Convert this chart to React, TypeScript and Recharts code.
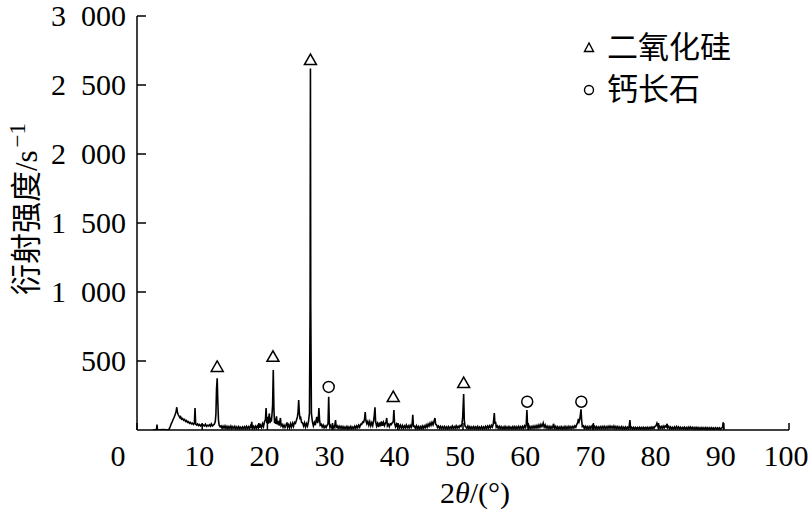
import React from 'react';
import { ComposedChart, Line, Scatter, XAxis, YAxis, Legend } from 'recharts';

const SERIF = '"Liberation Serif", "DejaVu Serif", "Noto Sans CJK SC", serif';

// 2θ (degrees) vs counts
const scanA: [number, number][] = [
  [2.5, 2], [2.8, 3], [3.0, 4], [3.07, 40], [3.14, 4], [3.5, 2], [4.0, 3], [4.5, 2], [4.9, 4],
  [5.1, 25], [5.25, 45], [5.4, 60], [5.55, 78], [5.7, 92], [5.85, 112], [6.0, 135], [6.1, 165],
  [6.2, 128], [6.3, 112], [6.45, 100], [6.6, 88], [6.7, 96], [6.85, 78], [7.0, 84], [7.15, 70],
  [7.3, 76], [7.45, 62], [7.6, 68], [7.75, 55], [7.9, 60], [8.05, 48], [8.2, 54], [8.35, 44],
  [8.5, 50], [8.65, 40], [8.8, 48], [8.9, 160], [9.0, 42], [9.15, 36], [9.3, 44], [9.45, 32],
  [9.6, 40], [9.75, 30], [9.9, 38], [10.05, 28], [10.2, 36], [10.35, 30], [10.5, 42], [10.65, 27],
  [10.8, 34], [10.95, 29], [11.1, 38], [11.25, 28], [11.4, 44], [11.55, 30], [11.7, 36], [11.85, 42],
  [12.0, 60], [12.1, 110], [12.2, 300], [12.3, 375], [12.4, 200], [12.5, 70], [12.6, 35], [12.75, 24],
];

const scanB: [number, number][] = [
  [12.9, 30], [13.05, 12], [13.2, 28], [13.35, 14], [13.5, 30], [13.65, 12], [13.8, 26], [13.95, 10],
  [14.1, 25], [14.25, 12], [14.4, 28], [14.55, 10], [14.7, 24], [14.85, 12], [15.0, 26], [15.15, 10],
  [15.3, 22], [15.45, 9], [15.6, 25], [15.75, 10], [15.9, 20], [16.05, 9], [16.2, 22], [16.35, 10],
  [16.5, 24], [16.65, 10], [16.8, 26], [16.95, 11], [17.1, 24], [17.25, 10], [17.4, 28], [17.5, 14],
  [17.6, 60], [17.7, 12], [17.85, 26], [18.0, 11], [18.15, 28], [18.3, 13], [18.45, 30], [18.6, 15],
  [18.7, 50], [18.8, 16], [18.95, 35], [19.1, 18], [19.25, 45], [19.4, 25], [19.55, 60], [19.7, 75],
  [19.8, 160], [19.9, 50], [20.0, 95], [20.1, 45], [20.2, 85], [20.3, 120], [20.4, 50], [20.5, 90],
  [20.6, 60], [20.7, 110], [20.8, 180], [20.9, 435], [21.0, 150], [21.1, 50], [21.2, 85], [21.3, 45],
  [21.4, 100], [21.5, 40], [21.65, 65], [21.8, 32], [21.9, 60], [22.0, 87], [22.1, 30], [22.25, 40],
  [22.4, 20], [22.55, 36], [22.7, 18], [22.85, 34], [23.0, 55], [23.1, 20], [23.25, 38], [23.4, 16],
  [23.55, 45], [23.7, 22], [23.85, 48], [24.0, 26], [24.15, 55], [24.3, 48], [24.45, 70], [24.6, 95],
  [24.7, 130], [24.8, 217], [24.9, 120], [25.0, 85], [25.1, 90], [25.25, 55], [25.4, 50], [25.55, 28],
  [25.7, 52], [25.85, 22], [26.0, 46], [26.15, 28], [26.3, 60], [26.45, 120], [26.55, 900], [26.6, 2620],
  [26.65, 900], [26.75, 120], [26.9, 60], [27.05, 30], [27.2, 55], [27.35, 35], [27.5, 80], [27.6, 95],
  [27.7, 50], [27.8, 70], [27.9, 160], [28.0, 75], [28.1, 35], [28.25, 42], [28.4, 22], [28.55, 36],
  [28.7, 16], [28.85, 30], [29.0, 18], [29.15, 34], [29.3, 45], [29.4, 240], [29.5, 50], [29.6, 18],
  [29.75, 34], [29.9, 14], [30.05, 30], [30.2, 14], [30.35, 36], [30.45, 72], [30.55, 20], [30.7, 30],
  [30.85, 12],
];

const scanC: [number, number][] = [
  [31.0, 28], [31.15, 12], [31.3, 26], [31.45, 10], [31.6, 24], [31.75, 9], [31.9, 22], [32.05, 10],
  [32.2, 25], [32.35, 8], [32.5, 22], [32.65, 10], [32.8, 26], [32.95, 9], [33.1, 22], [33.25, 11],
  [33.4, 27], [33.55, 12], [33.7, 30], [33.85, 16], [34.0, 34], [34.15, 20], [34.3, 42], [34.45, 40],
  [34.6, 58], [34.75, 55], [34.9, 80], [35.0, 130], [35.1, 70], [35.25, 45], [35.4, 62], [35.55, 35],
  [35.7, 60], [35.85, 30], [36.0, 52], [36.15, 32], [36.3, 70], [36.4, 110], [36.5, 165], [36.6, 60],
  [36.75, 28], [36.9, 48], [37.05, 22], [37.2, 55], [37.35, 26], [37.5, 62], [37.65, 30], [37.8, 55],
  [37.95, 32], [38.1, 50], [38.2, 60], [38.3, 87], [38.4, 30], [38.55, 42], [38.7, 24], [38.85, 45],
  [39.0, 40], [39.15, 52], [39.3, 60], [39.4, 145], [39.5, 50], [39.65, 24], [39.8, 42], [39.95, 20],
  [40.1, 38], [40.25, 16], [40.4, 34], [40.55, 14], [40.7, 32], [40.85, 13], [41.0, 30], [41.15, 15],
  [41.3, 35], [41.45, 16], [41.6, 30], [41.75, 14], [41.9, 34], [42.05, 20], [42.2, 45], [42.3, 110],
  [42.4, 26], [42.55, 28], [42.7, 12], [42.85, 30], [43.0, 10], [43.15, 26], [43.3, 9], [43.45, 25],
  [43.6, 10], [43.75, 28], [43.9, 12], [44.05, 30], [44.2, 16], [44.35, 36], [44.5, 20], [44.65, 42],
  [44.8, 28], [44.95, 50], [45.1, 34], [45.25, 56], [45.4, 38], [45.55, 62], [45.7, 87], [45.8, 42],
  [45.95, 36], [46.1, 18], [46.25, 28], [46.4, 12], [46.55, 26], [46.7, 10], [46.85, 24], [47.0, 11],
  [47.15, 25], [47.3, 10], [47.45, 22], [47.6, 9], [47.75, 24], [47.9, 10], [48.05, 22], [48.2, 12],
  [48.35, 28], [48.5, 11], [48.65, 24], [48.8, 13], [48.95, 30], [49.1, 14], [49.25, 27], [49.4, 16],
  [49.55, 32], [49.7, 26], [49.85, 48], [49.95, 90], [50.05, 200], [50.1, 260], [50.2, 70], [50.3, 30],
  [50.45, 22], [50.6, 12], [50.75, 28], [50.9, 10],
];

const scanD: [number, number][] = [
  [51.05, 24], [51.2, 9], [51.35, 22], [51.5, 10], [51.65, 24], [51.8, 9], [51.95, 22], [52.1, 10],
  [52.25, 25], [52.4, 8], [52.55, 21], [52.7, 10], [52.85, 24], [53.0, 9], [53.15, 22], [53.3, 10],
  [53.45, 26], [53.6, 11], [53.75, 28], [53.9, 13], [54.05, 30], [54.2, 16], [54.35, 34], [54.5, 22],
  [54.65, 45], [54.8, 123], [54.9, 45], [55.0, 60], [55.1, 20], [55.25, 30], [55.4, 12], [55.55, 26],
  [55.7, 10], [55.85, 24], [56.0, 9], [56.15, 22], [56.3, 8], [56.45, 25], [56.6, 10], [56.75, 22],
  [56.9, 9], [57.05, 24], [57.2, 10], [57.35, 21], [57.5, 8], [57.65, 24], [57.8, 10], [57.95, 25],
  [58.1, 9], [58.25, 23], [58.4, 10], [58.55, 26], [58.7, 11], [58.85, 24], [59.0, 10], [59.15, 26],
  [59.3, 12], [59.45, 30], [59.6, 18], [59.7, 40], [59.8, 145], [59.9, 40], [60.0, 14], [60.15, 28],
  [60.3, 10], [60.45, 25], [60.6, 12], [60.75, 28], [60.9, 13], [61.05, 30], [61.2, 15], [61.35, 32],
  [61.5, 16], [61.65, 36], [61.8, 20], [61.95, 40], [62.1, 24], [62.2, 34], [62.3, 50], [62.45, 20],
  [62.6, 36], [62.75, 14], [62.9, 28], [63.05, 11], [63.2, 26], [63.35, 10], [63.5, 25], [63.65, 12],
  [63.8, 30], [63.9, 45], [64.0, 12], [64.15, 26], [64.3, 9], [64.45, 24], [64.6, 8], [64.75, 22],
  [64.9, 9], [65.05, 24], [65.2, 8], [65.35, 22], [65.5, 9], [65.65, 25], [65.8, 9], [65.95, 23],
  [66.1, 10], [66.25, 26], [66.4, 11], [66.55, 24], [66.7, 12], [66.85, 26], [67.0, 14], [67.15, 30],
  [67.3, 20], [67.45, 40], [67.6, 55], [67.7, 80], [67.8, 60], [67.9, 75], [68.0, 110], [68.1, 150],
  [68.2, 70], [68.3, 25], [68.45, 30], [68.6, 12], [68.75, 26], [68.9, 10], [69.05, 24], [69.2, 9],
  [69.35, 24], [69.5, 10], [69.65, 26], [69.8, 14], [69.9, 40], [70.0, 12], [70.15, 26], [70.3, 10],
];

const scanE: [number, number][] = [
  [70.45, 24], [70.6, 9], [70.75, 22], [70.9, 10], [71.05, 24], [71.2, 10], [71.35, 25], [71.5, 11],
  [71.65, 26], [71.8, 10], [71.95, 24], [72.1, 11], [72.25, 26], [72.4, 12], [72.55, 28], [72.7, 13],
  [72.85, 26], [73.0, 12], [73.15, 28], [73.3, 11], [73.45, 25], [73.6, 10], [73.75, 24], [73.9, 9],
  [74.05, 22], [74.2, 9], [74.35, 24], [74.5, 8], [74.65, 21], [74.8, 8], [74.95, 22], [75.1, 8],
  [75.25, 20], [75.4, 9], [75.5, 30], [75.6, 72], [75.7, 12], [75.85, 20], [76.0, 8], [76.15, 19],
  [76.3, 7], [76.45, 18], [76.6, 7], [76.75, 18], [76.9, 8], [77.05, 19], [77.2, 7], [77.35, 18],
  [77.5, 8], [77.65, 19], [77.8, 7], [77.95, 18], [78.1, 8], [78.25, 20], [78.4, 8], [78.55, 19],
  [78.7, 9], [78.85, 21], [79.0, 10], [79.15, 22], [79.3, 12], [79.45, 26], [79.6, 30], [79.75, 50],
  [79.85, 36], [79.95, 18], [80.1, 28], [80.25, 12], [80.4, 26], [80.55, 12], [80.7, 28], [80.85, 14],
  [81.0, 30], [81.15, 22], [81.3, 45], [81.4, 16], [81.55, 26], [81.7, 9], [81.85, 22], [82.0, 8],
  [82.15, 20], [82.3, 8], [82.45, 22], [82.6, 9], [82.75, 24], [82.9, 10], [83.05, 22], [83.2, 9],
  [83.35, 20], [83.5, 8], [83.65, 19], [83.8, 8], [83.95, 21], [84.1, 7], [84.25, 18], [84.4, 7],
  [84.55, 20], [84.7, 8], [84.85, 22], [85.0, 9], [85.15, 20], [85.3, 7], [85.45, 18], [85.6, 7],
  [85.75, 19], [85.9, 7], [86.05, 18], [86.2, 6], [86.35, 17], [86.5, 6], [86.65, 18], [86.8, 6],
  [86.95, 17], [87.1, 6], [87.25, 18], [87.4, 6], [87.55, 16], [87.7, 5], [87.85, 17], [88.0, 6],
  [88.15, 16], [88.3, 5], [88.45, 15], [88.6, 6], [88.75, 16], [88.9, 5], [89.05, 15], [89.2, 6],
  [89.35, 16], [89.5, 6], [89.65, 14], [89.8, 18], [89.9, 55], [90.0, 6],
];

// Phase markers (2θ, marker height in counts)
const quartzMarks = [
  { x: 12.3, y: 457 }, { x: 20.85, y: 530 }, { x: 26.6, y: 2681 }, { x: 39.3, y: 239 }, { x: 50.1, y: 340 },
];
const anorthiteMarks = [
  { x: 29.4, y: 312 }, { x: 59.85, y: 205 }, { x: 68.15, y: 205 },
];

const xTicks = [0, 10, 20, 30, 40, 50, 60, 70, 80, 90, 100];
const yTicks = [500, 1000, 1500, 2000, 2500, 3000];
const legendNames = ['二氧化硅', '钙长石'];

const pattern = [...scanA, ...scanB, ...scanC, ...scanD, ...scanE].map(([x, y]) => ({ x, y }));

const fmtY = (v: number) => (v >= 1000 ? `${Math.floor(v / 1000)}\u2007${String(v % 1000).padStart(3, '0')}` : String(v));

const XTick = (props: any) => {
  const { x, y, payload } = props;
  const shift = payload.value === 0 ? -19 : -3;
  return (
    <text x={x + shift} y={y} dy="0.71em" textAnchor="middle" fontSize={30} style={{ fontFamily: SERIF }} fill="#000">
      {payload.value}
    </text>
  );
};

const YTick = (props: any) => {
  const { x, y, payload } = props;
  return (
    <text x={x} y={y} dy="0.34em" textAnchor="end" fontSize={30} style={{ fontFamily: SERIF }} fill="#000">
      {fmtY(payload.value)}
    </text>
  );
};

const YLabel = (props: any) => {
  const vb = props.viewBox || { x: 0, y: 16, width: 137, height: 414 };
  const cx = vb.x + 26;
  const cy = vb.y + vb.height / 2 - 14;
  return (
    <text
      transform={`rotate(-90 ${cx} ${cy})`}
      x={cx}
      y={cy}
      dy="0.35em"
      textAnchor="middle"
      fontSize={31}
      style={{ fontFamily: SERIF }}
      fill="#000"
    >
      衍射强度/s<tspan dx={3} dy={-12} fontSize={23}>−1</tspan>
    </text>
  );
};

const XLabel = (props: any) => {
  const vb = props.viewBox || { x: 137, y: 430, width: 652, height: 84 };
  const cx = vb.x + vb.width / 2 + 12;
  const cy = vb.y + 73;
  return (
    <text x={cx} y={cy} textAnchor="middle" fontSize={30} style={{ fontFamily: SERIF }} fill="#000">
      2<tspan fontStyle="italic">θ</tspan>/(°)
    </text>
  );
};

const Triangle = (props: any) => {
  const { cx, cy } = props;
  if (cx == null || cy == null) return null;
  return (
    <polygon
      points={`${cx},${cy - 6} ${cx - 6},${cy + 4.5} ${cx + 6},${cy + 4.5}`}
      fill="#fff"
      stroke="#000"
      strokeWidth={1.5}
    />
  );
};

const Ring = (props: any) => {
  const { cx, cy } = props;
  if (cx == null || cy == null) return null;
  return <circle cx={cx} cy={cy} r={5.5} fill="#fff" stroke="#000" strokeWidth={1.5} />;
};

const LegendBox = () => (
  <div style={{ fontFamily: SERIF, fontSize: 31, color: '#000', lineHeight: '42px' }}>
    <div style={{ display: 'flex', alignItems: 'center' }}>
      <svg width={18} height={42}>
        <polygon points="9,16 4.5,24.5 13.5,24.5" fill="none" stroke="#000" strokeWidth={1.4} />
      </svg>
      <span style={{ marginLeft: 9 }}>{legendNames[0]}</span>
    </div>
    <div style={{ display: 'flex', alignItems: 'center' }}>
      <svg width={18} height={42}>
        <circle cx={9} cy={21} r={4.5} fill="none" stroke="#000" strokeWidth={1.4} />
      </svg>
      <span style={{ marginLeft: 9 }}>{legendNames[1]}</span>
    </div>
  </div>
);

export default function App() {
  return (
    <div style={{ position: 'absolute', left: 0, top: 0, width: 812, height: 514, background: '#fff' }}>
      <ComposedChart width={812} height={514} margin={{ top: 16, right: 23, bottom: 0, left: 0 }}>
        <XAxis
          dataKey="x"
          type="number"
          domain={[0, 100]}
          ticks={xTicks}
          interval={0}
          allowDataOverflow
          axisLine={{ stroke: '#000', strokeWidth: 1.5 }}
          tickLine={{ stroke: '#000', strokeWidth: 1.5 }}
          tickSize={-7}
          tickMargin={22}
          tick={<XTick />}
          height={84}
          label={<XLabel />}
        />
        <YAxis
          type="number"
          domain={[0, 3000]}
          ticks={yTicks}
          interval={0}
          allowDataOverflow
          axisLine={{ stroke: '#000', strokeWidth: 1.5 }}
          tickLine={{ stroke: '#000', strokeWidth: 1.5 }}
          tickSize={-9}
          tickMargin={20}
          tick={<YTick />}
          width={137}
          label={<YLabel />}
        />
        <Legend
          layout="vertical"
          align="center"
          verticalAlign="middle"
          content={<LegendBox />}
          wrapperStyle={{ position: 'absolute', top: 27, left: 580, width: 'auto', height: 'auto' }}
        />
        <Line
          data={pattern}
          dataKey="y"
          type="linear"
          stroke="#000"
          strokeWidth={1.6}
          dot={false}
          activeDot={false}
          isAnimationActive={false}
          legendType="none"
        />
        <Scatter data={quartzMarks} dataKey="y" shape={<Triangle />} isAnimationActive={false} legendType="none" />
        <Scatter data={anorthiteMarks} dataKey="y" shape={<Ring />} isAnimationActive={false} legendType="none" />
      </ComposedChart>
    </div>
  );
}
